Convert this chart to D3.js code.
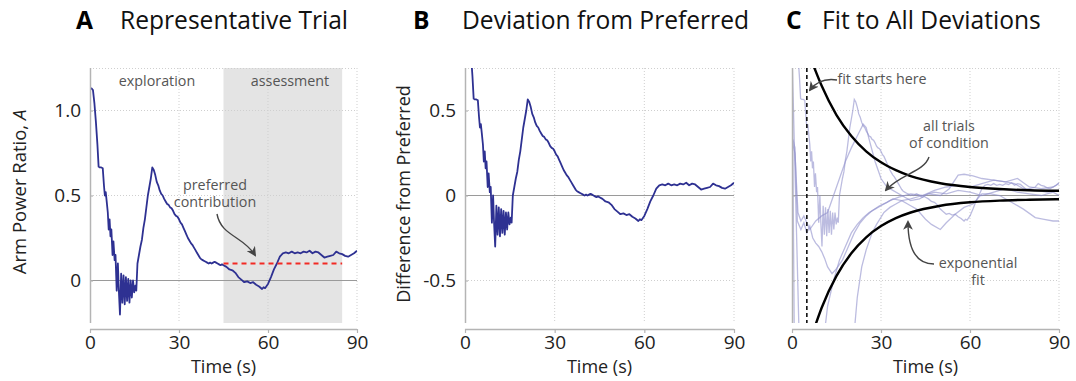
<!DOCTYPE html>
<html><head><meta charset="utf-8">
<script src="https://cdn.jsdelivr.net/npm/d3@7"></script>
<style>body{margin:0;background:#fff} svg{display:block} text{font-family:"Open Sans",sans-serif}</style>
</head><body><svg id="c" width="1076" height="381"></svg>
<script>
// ---------- data ----------
const timeA = [0,0.5,1,1.5,2,2.5,2.9,3.3,3.8,4.3,4.7,5,5.3,5.6,6,6.3,6.6,6.9,7.2,7.6,7.9,8.3,8.6,9,9.4,9.7,10.1,10.5,10.9,11.3,11.7,12.1,12.5,12.9,13.3,13.7,14.1,14.5,14.9,15.3,15.6,16,16.5,17,17.5,18,18.5,19,19.5,20,20.5,21,21.5,22,22.5,23,23.5,24,24.5,25,25.5,26,26.5,27,27.5,28,28.5,29,29.5,30,30.5,31,31.5,32,32.5,33,33.5,34,34.5,35,35.5,36,36.5,37,37.5,38,38.5,39,39.5,40,40.5,41,41.5,42,42.5,43,43.5,44,44.5,45,46,47,48,49,50,51,52,53,54,55,56,57,58,58.5,59,60,61,62,63,64,65,66,67,68,69,70,71,72,73,74,75,76,77,78,79,80,81,82,83,84,85,86,87,88,89,90];
const ratioA = [1.13,1.13,1.12,1.04,0.93,0.80,0.67,0.665,0.665,0.66,0.56,0.50,0.52,0.47,0.40,0.30,0.36,0.26,0.30,0.15,0.23,0.12,0.15,-0.06,0.10,-0.05,-0.20,0.04,-0.13,0.03,-0.14,0.02,-0.12,0.01,-0.13,0.00,-0.10,0.00,-0.07,-0.03,-0.06,0.10,0.15,0.20,0.24,0.31,0.36,0.43,0.50,0.55,0.60,0.665,0.65,0.62,0.58,0.56,0.53,0.51,0.50,0.48,0.465,0.45,0.445,0.43,0.425,0.41,0.39,0.38,0.375,0.36,0.34,0.33,0.31,0.29,0.27,0.25,0.235,0.22,0.21,0.195,0.18,0.165,0.15,0.135,0.125,0.12,0.115,0.11,0.105,0.10,0.105,0.10,0.105,0.11,0.105,0.10,0.095,0.09,0.095,0.09,0.08,0.065,0.06,0.045,0.02,0.005,-0.01,-0.005,-0.015,-0.01,-0.025,-0.035,-0.05,-0.04,-0.045,-0.02,0.02,0.065,0.10,0.14,0.16,0.165,0.16,0.17,0.16,0.165,0.16,0.17,0.165,0.175,0.16,0.17,0.165,0.15,0.135,0.14,0.145,0.15,0.17,0.16,0.155,0.145,0.14,0.15,0.16,0.175];
const preferred = 0.1;
const assessment = [45, 85];
const fitStart = 5;

// other trials of the condition (time, deviation)
const trial2 = [[0,0.32],[1,0.25],[2,-0.1],[3,-0.15],[4,-0.12],[6,-0.2],[8,-0.15],[10,-0.12],[12,-0.1],[14,0.0],[16,0.1],[18,0.2],[20,0.28],[22,0.35],[24,0.42],[25,0.4],[26,0.33],[28,0.2],[30,0.1],[32,0.05],[34,0.03],[37,0.0],[40,-0.03],[43,-0.02],[46,0.01],[50,0.0],[53,0.04],[56,0.12],[58,0.125],[61,0.115],[64,0.1],[68,0.09],[72,0.08],[75,0.07],[78,0.04],[82,0.03],[86,0.02],[90,0.03]];
const trial3 = [[0.3,0.33],[1,0.28],[1.8,-0.15],[3,-0.2],[4,-0.16],[5,-0.22],[6,-0.18],[7,-0.25],[8,-0.28],[9,-0.3],[10,-0.33],[11,-0.37],[12,-0.42],[13.5,-0.46],[15,-0.43],[17,-0.38],[19,-0.3],[21,-0.22],[23,-0.16],[25,-0.12],[27,-0.09],[29.5,-0.06],[32,-0.04],[34,-0.02],[37,-0.03],[40,-0.06],[42,-0.08],[45,-0.14],[47,-0.17],[50,-0.2],[52,-0.16],[55,-0.11],[58,-0.07],[61,-0.05],[64,0.01],[67,0.01],[70,0.0],[74,-0.04],[78,-0.08],[82,-0.13],[85,-0.14],[88,-0.15],[90,-0.15]];
const trial4 = [[0,0.9],[0.8,-0.9],[11,-0.8],[12,-0.65],[14,-0.5],[16,-0.38],[18,-0.3],[20,-0.22],[22,-0.17],[24,-0.13],[26,-0.1],[28,-0.08],[30,-0.06],[33,-0.03],[36,-0.01],[40,0.01],[44,0.0],[48,0.03],[52,0.05],[56,0.06],[60,0.05],[64,0.07],[68,0.09],[72,0.08],[76,0.1],[80,0.05],[84,0.04],[88,0.05],[90,0.07]];
const trial5 = [[0,0.85],[2.5,-0.9],[21,-0.8],[22,-0.6],[23.5,-0.42],[25,-0.32],[27,-0.22],[28.5,-0.17],[31,-0.1],[33,-0.07],[35,-0.05],[37,-0.03],[40,-0.02],[44,0.0],[48,0.02],[52,0.01],[56,0.03],[60,0.02],[64,0.0],[68,0.02],[72,0.04],[76,0.02],[80,0.01],[84,0.0],[88,0.02],[90,0.0]];

// exponential fit curves
const fitTime  = [7.4,10,15,20,25,30,35,40,50,60,70,80,90];
const fitUpper = [0.757,0.645,0.473,0.35,0.26,0.195,0.149,0.114,0.072,0.05,0.038,0.031,0.028];
const fitTimeL = [8.1,10,15,20,25,30,35,40,50,60,70,80,90];
const fitLower = [-0.752,-0.66,-0.473,-0.34,-0.246,-0.18,-0.133,-0.1,-0.06,-0.04,-0.03,-0.025,-0.022];

const xTicks = [0,30,60,90];
const yTicksA = [0,0.5,1.0], yLabelsA = ["0","0.5","1.0"];
const yTicksB = [-0.5,0,0.5], yLabelsB = ["-0.5","0","0.5"];

// ---------- drawing ----------
const svg = d3.select("#c");
const TOP = 68, BOT = 323, AXY = 329;
const BLUE = "#2e3192", AX = "#b4b4b4", GRID = "#cfcfcf", ANN = "#555";
const FS_TICK = 19, FS_LAB = 18, FS_ANN = 14.3, FS_TITLE = 24.6;

const defs = svg.append("defs");
defs.append("marker").attr("id","ah").attr("viewBox","0 0 10 10").attr("refX",8).attr("refY",5)
  .attr("markerWidth",7).attr("markerHeight",7).attr("orient","auto-start-reverse")
  .append("path").attr("d","M0,0 L10,5 L0,10 L3,5 z").attr("fill","#444");

function panel(id, x0, x1, yDom, yT, yL, showYLabels) {
  const x = d3.scaleLinear().domain([0,90]).range([x0,x1]);
  const y = d3.scaleLinear().domain(yDom).range([BOT,TOP]);
  const g = svg.append("g");
  defs.append("clipPath").attr("id","clip"+id).append("rect")
    .attr("x",x0).attr("y",TOP).attr("width",x1-x0).attr("height",BOT-TOP);
  const back = g.append("g");
  const grid = g.append("g").attr("stroke",GRID).attr("stroke-dasharray","1,2").attr("stroke-width",1);
  yT.forEach(v => { if (v!==0) grid.append("line").attr("x1",x0).attr("x2",x1).attr("y1",y(v)).attr("y2",y(v)); });
  grid.append("line").attr("x1",x0).attr("x2",x1).attr("y1",TOP+0.5).attr("y2",TOP+0.5);
  xTicks.slice(1).forEach(t => grid.append("line").attr("x1",x(t)).attr("x2",x(t)).attr("y1",TOP).attr("y2",BOT));
  g.append("line").attr("x1",x0).attr("x2",x1).attr("y1",y(0)).attr("y2",y(0)).attr("stroke","#9a9a9a").attr("stroke-width",1);
  const data = g.append("g").attr("clip-path",`url(#clip${id})`);
  const xa = g.append("g").attr("transform",`translate(0,${AXY})`)
    .call(d3.axisBottom(x).tickValues(xTicks).tickSize(4).tickPadding(3).tickFormat(d3.format("d")));
  const ya = g.append("g").attr("transform",`translate(${x0},0)`)
    .call(d3.axisLeft(y).tickValues(yT).tickSize(-3).tickPadding(9).tickFormat((d,i)=> showYLabels ? yL[i] : ""));
  [xa,ya].forEach(a => {
    a.select(".domain").attr("stroke",AX).attr("stroke-width",1.5);
    a.selectAll(".tick line").attr("stroke",AX).attr("stroke-width",1.2);
    a.selectAll("text").attr("font-size",FS_TICK).attr("fill","#222").attr("font-family","'Open Sans',sans-serif");
  });
  ya.select(".domain").attr("d",`M0.5,${TOP}V${BOT}`);
  xa.select(".domain").attr("d",`M${x0},0.5H${x1}`);
  g.append("text").attr("x",(x0+x1)/2).attr("y",373).attr("text-anchor","middle")
    .attr("font-size",FS_LAB).attr("fill","#222").text("Time (s)");
  return {x,y,g,back,data};
}

const line = (x,y) => d3.line().x(d=>x(d[0])).y(d=>y(d[1]));
const seriesA = timeA.map((t,i)=>[t, ratioA[i]]);
const seriesB = timeA.map((t,i)=>[t, ratioA[i]-preferred]);
const ann = (g,x,y,t) => g.append("text").attr("x",x).attr("y",y).attr("text-anchor","middle").attr("font-size",FS_ANN).attr("fill",ANN).text(t);
const arrow = (g,d) => g.append("path").attr("d",d).attr("fill","none").attr("stroke","#444").attr("stroke-width",1.4).attr("marker-end","url(#ah)");

// Panel A
const A = panel("A", 90, 357, [-0.25,1.25], yTicksA, yLabelsA, true);
A.back.append("rect").attr("x",A.x(assessment[0])).attr("y",TOP).attr("width",A.x(assessment[1])-A.x(assessment[0]))
  .attr("height",BOT-TOP).attr("fill","#e4e4e4");
A.data.append("path").datum(seriesA).attr("d",line(A.x,A.y)).attr("fill","none").attr("stroke",BLUE).attr("stroke-width",1.8).attr("stroke-linejoin","round");
A.g.append("line").attr("x1",A.x(assessment[0])).attr("x2",A.x(assessment[1])).attr("y1",A.y(preferred)).attr("y2",A.y(preferred))
  .attr("stroke","#f22a24").attr("stroke-width",2).attr("stroke-dasharray","5,4");
ann(A.g,157,86,"exploration");
ann(A.g,290,86,"assessment");
ann(A.g,215,190,"preferred");
ann(A.g,215,207,"contribution");
arrow(A.g,"M217,214 C221,236 243,236 255,255");
svg.append("text").attr("transform","translate(26,192) rotate(-90)").attr("text-anchor","middle").attr("font-size",18.5).attr("fill","#222")
  .call(t=>{t.append("tspan").text("Arm Power Ratio, "); t.append("tspan").attr("font-style","italic").text("A");});

// Panel B
const B = panel("B", 465, 734, [-0.75,0.75], yTicksB, yLabelsB, true);
B.data.append("path").datum(seriesB).attr("d",line(B.x,B.y)).attr("fill","none").attr("stroke",BLUE).attr("stroke-width",1.8).attr("stroke-linejoin","round");
svg.append("text").attr("transform","translate(410,194) rotate(-90)").attr("text-anchor","middle").attr("font-size",FS_LAB).attr("fill","#222").text("Difference from Preferred");

// Panel C
const C = panel("C", 792, 1059, [-0.75,0.75], yTicksB, yLabelsB, false);
const trials = [seriesB, trial2, trial3, trial4, trial5];
C.data.selectAll("path.tr").data(trials).join("path").attr("class","tr").attr("d",line(C.x,C.y))
  .attr("fill","none").attr("stroke","#8f90cc").attr("stroke-opacity",0.6).attr("stroke-width",1.3);
C.data.append("line").attr("x1",C.x(fitStart)).attr("x2",C.x(fitStart)).attr("y1",TOP).attr("y2",BOT)
  .attr("stroke","#111").attr("stroke-width",1.6).attr("stroke-dasharray","4,3");
const fitU = fitTime.map((t,i)=>[t,fitUpper[i]]);
const fitL = fitTimeL.map((t,i)=>[t,fitLower[i]]);
const smooth = d3.line().x(d=>C.x(d[0])).y(d=>C.y(d[1])).curve(d3.curveMonotoneX);
[fitU,fitL].forEach(f => C.data.append("path").datum(f).attr("d",smooth).attr("fill","none").attr("stroke","#000").attr("stroke-width",2.4));
ann(C.g,882,84,"fit starts here");
arrow(C.g,"M837,80 C824,78 816,82 810,90");
ann(C.g,949,131,"all trials");
ann(C.g,949,148,"of condition");
arrow(C.g,"M929,157 C924,172 900,174 886,190");
ann(C.g,978,268,"exponential");
ann(C.g,978,285,"fit");
arrow(C.g,"M934,264 C916,264 908,248 908,222");

// Titles
const titles = [["A",76,"Representative Trial",120],["B",413,"Deviation from Preferred",462],["C",786,"Fit to All Deviations",822]];
titles.forEach(([l,lx,t,tx]) => {
  svg.append("text").attr("x",lx).attr("y",29).attr("font-size",FS_TITLE).attr("font-weight","bold").attr("fill","#000").text(l);
  svg.append("text").attr("x",tx).attr("y",29).attr("font-size",FS_TITLE).attr("fill","#111").text(t);
});
</script></body></html>
